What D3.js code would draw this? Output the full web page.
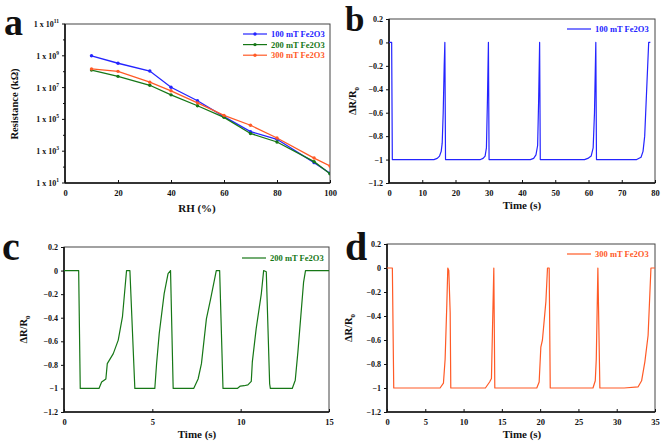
<!DOCTYPE html>
<html><head><meta charset="utf-8">
<script src="https://cdn.jsdelivr.net/npm/d3@7/dist/d3.min.js"></script>
<style>body{margin:0;background:#fff}svg{display:block}text{font-family:"Liberation Serif","Times New Roman",serif;font-weight:bold}</style>
</head><body><svg id="c" width="661" height="443"></svg>
<script>
// ---- Panel a data ----
const rh = [10, 20, 32, 40, 50, 60, 70, 80, 94, 100];
const res100 = [1e9, 3.4e8, 1.1e8, 1.05e7, 1.5e6, 1.5e5, 1.7e4, 5.6e3, 190, 41];
const res200 = [1.26e8, 5.1e7, 1.4e7, 3.5e6, 7.2e5, 1.35e5, 1.3e4, 3.8e3, 220, 38];
const res300 = [1.5e8, 1.05e8, 2.2e7, 6.3e6, 1.1e6, 1.8e5, 4.3e4, 6.8e3, 370, 117];
const seriesA = ["100 mT Fe2O3", "200 mT Fe2O3", "300 mT Fe2O3"];
const rhTicks = [0, 20, 40, 60, 80, 100];
const resTicksExp = [1, 3, 5, 7, 9, 11];
const resMinorExp = [2, 4, 6, 8, 10];

// ---- Panel b data (100 mT) : [time s, dR/R0]
const t100 = [0,0.8,1.0,13.5,14.5,15.2,15.7,16.0,16.3,16.6,16.8,17.0,27.5,28.3,28.9,29.3,29.6,29.9,30.1,42.5,43.5,44.2,44.7,45.0,45.3,45.5,58.8,59.8,60.8,61.4,61.8,62.2,62.4,74.5,75.8,76.4,76.9,77.5,78.1,78.6];
const r100 = [0,0,-1,-1,-0.99,-0.97,-0.93,-0.86,-0.6,-0.2,0,-1,-1,-0.99,-0.97,-0.9,-0.5,0,-1,-1,-0.99,-0.96,-0.88,-0.5,0,-1,-1,-0.99,-0.97,-0.9,-0.6,0,-1,-1,-0.98,-0.93,-0.8,-0.4,0,0];
const timeTicksB = [0,10,20,30,40,50,60,70,80];

// ---- Panel c data (200 mT)
const t200 = [0,0.83,0.92,1.98,2.13,2.37,2.45,2.79,3.07,3.31,3.54,3.73,4.01,5.14,5.24,5.39,5.67,5.89,6.03,6.18,7.34,7.59,7.78,8.06,8.3,8.62,8.81,9.0,9.81,9.98,10.2,10.41,10.6,10.66,10.88,11.17,11.3,11.45,11.64,11.68,12.92,13.09,13.24,13.43,13.56,13.67,15];
const r200 = [0,0,-1,-1,-0.946,-0.92,-0.79,-0.705,-0.59,-0.39,0,0,-1,-1,-0.79,-0.535,-0.195,-0.025,0,-1,-1,-0.92,-0.79,-0.41,-0.24,0,0,-1,-1,-0.98,-0.977,-0.97,-0.94,-0.775,-0.49,-0.195,0,-0.01,-0.96,-1,-1,-0.93,-0.69,-0.34,-0.1,0,0];
const timeTicksC = [0,5,10,15];

// ---- Panel d data (300 mT)
const t300 = [0,0.7,0.88,6.93,7.37,7.59,7.81,7.94,8.07,8.25,8.33,12.85,13.4,13.64,13.77,13.95,14.08,19.56,19.87,20.09,20.3,20.75,20.96,21.18,21.32,26.9,27.2,27.33,27.54,27.8,30.96,32.8,33.25,33.68,34.1,34.47,35];
const r300 = [0,0,-1,-1,-0.96,-0.76,-0.31,0,-0.02,-0.37,-1,-1,-0.95,-0.92,-0.53,0,-1,-1,-0.95,-0.66,-0.6,-0.28,0,0,-1,-1,-0.94,-0.76,0,-1,-1,-0.99,-0.94,-0.78,-0.56,0,0];
const timeTicksD = [0,5,10,15,20,25,30,35];
const drTicks = [0.2,0,-0.2,-0.4,-0.6,-0.8,-1,-1.2];

const colors = ["#2424ff", "#167716", "#ff5a26"];
const svg = d3.select("#c");

function frame(g, x, y) {
  const [x0,x1] = x.range(), [y1,y0] = y.range();
  g.append("rect").attr("x",x0).attr("y",y0).attr("width",x1-x0).attr("height",y1-y0)
    .attr("fill","none").attr("stroke","#444").attr("stroke-width",1);
  g.append("line").attr("x1",x0).attr("x2",x0).attr("y1",y0).attr("y2",y1).attr("stroke","#111").attr("stroke-width",1.6);
  g.append("line").attr("x1",x0).attr("x2",x1).attr("y1",y1).attr("y2",y1).attr("stroke","#111").attr("stroke-width",1.6);
}
function xAxis(g, x, y, ticks, fmt) {
  const yb = y.range()[0];
  const ax = g.append("g").attr("transform",`translate(0,${yb})`)
    .call(d3.axisBottom(x).tickValues(ticks).tickSize(-3).tickPadding(7).tickFormat(fmt||d3.format("d")));
  ax.select(".domain").remove();
  ax.selectAll("line").attr("stroke","#111");
  ax.selectAll("text").attr("font-size",8.5).attr("fill","#111").attr("font-family","Liberation Serif").attr("font-weight","bold");
}
function yAxisLin(g, x, y, ticks) {
  const ax = g.append("g").attr("transform",`translate(${x.range()[0]},0)`)
    .call(d3.axisLeft(y).tickValues(ticks).tickSize(3).tickPadding(3).tickFormat(d => d3.format("")(+d.toFixed(1))));
  ax.select(".domain").remove();
  ax.selectAll("line").attr("stroke","#111");
  ax.selectAll("text").attr("font-size",8).attr("fill","#111").attr("font-family","Liberation Serif").attr("font-weight","bold");
}
function label(txt, x, y, size, rot) {
  const t = svg.append("text").attr("x",x).attr("y",y).attr("font-size",size).attr("fill","#111").attr("text-anchor","middle");
  if (rot) t.attr("transform",`rotate(-90,${x},${y})`);
  return t.text(txt);
}
function legend(g, x, y, txt, col) {
  g.append("line").attr("x1",x).attr("x2",x+24).attr("y1",y).attr("y2",y).attr("stroke",col).attr("stroke-width",1.2);
  g.append("text").attr("x",x+28).attr("y",y+3).attr("font-size",8.5).attr("fill",col).text(txt);
}
function drLabel(x, y) {
  const t = svg.append("text").attr("transform",`translate(${x},${y}) rotate(-90)`).attr("text-anchor","middle").attr("font-size",10.5).attr("fill","#111");
  t.append("tspan").text("ΔR/R");
  t.append("tspan").attr("font-size",7).attr("dy",2.5).text("0");
}

// ---------- Panel a ----------
{
  const g = svg.append("g");
  const x = d3.scaleLinear().domain([0,100]).range([65,330]);
  const y = d3.scaleLog().domain([1e1,1e11]).range([183,24]);
  frame(g,x,y);
  xAxis(g,x,y,rhTicks);
  const ax = g.append("g").attr("transform","translate(65,0)");
  resTicksExp.forEach(e => {
    ax.append("line").attr("x1",-3).attr("x2",0).attr("y1",y(Math.pow(10,e))).attr("y2",y(Math.pow(10,e))).attr("stroke","#111");
    const t = ax.append("text").attr("x",-6).attr("y",y(Math.pow(10,e))+3).attr("text-anchor","end").attr("font-size",8).attr("fill","#111");
    t.append("tspan").text("1 x 10");
    t.append("tspan").attr("font-size",5.5).attr("dy",-4).text(e);
  });
  resMinorExp.forEach(e => {
    ax.append("line").attr("x1",-2).attr("x2",0).attr("y1",y(Math.pow(10,e))).attr("y2",y(Math.pow(10,e))).attr("stroke","#111");
  });
  const sets = [res100,res200,res300];
  const line = d3.line().x(d=>x(d[0])).y(d=>y(d[1]));
  svg.append("clipPath").attr("id","clipA").append("rect").attr("x",65).attr("y",24).attr("width",265).attr("height",159);
  sets.forEach((s,i) => {
    const pts = rh.map((r,j)=>[r,s[j]]);
    const gg = g.append("g").attr("clip-path","url(#clipA)");
    gg.append("path").attr("d",line(pts)).attr("fill","none").attr("stroke",colors[i]).attr("stroke-width",1.3);
    gg.selectAll("circle").data(pts).join("circle").attr("cx",d=>x(d[0])).attr("cy",d=>y(d[1])).attr("r",1.7).attr("fill",colors[i]);
  });
  seriesA.forEach((s,i) => {
    legend(g,243,34+i*10.6,s,colors[i]);
    g.append("circle").attr("cx",255).attr("cy",34+i*10.6).attr("r",1.7).attr("fill",colors[i]);
  });
  label("RH (%)",197,212,11);
  label("Resistance (kΩ)",18,104,10.5,true);
  svg.append("text").attr("x",4).attr("y",35).attr("font-size",38).attr("fill","#111").text("a");
}

function transient(x0,x1,top,bot,tmax,ticks,ts,rs,col,name,legX,legY,letter,lx,ly,xlab,ylab) {
  const g = svg.append("g");
  const x = d3.scaleLinear().domain([0,tmax]).range([x0,x1]);
  const y = d3.scaleLinear().domain([-1.2,0.2]).range([bot,top]);
  frame(g,x,y);
  xAxis(g,x,y,ticks);
  yAxisLin(g,x,y,drTicks);
  const line = d3.line().x(d=>x(d[0])).y(d=>y(d[1]));
  g.append("path").attr("d",line(ts.map((t,i)=>[t,rs[i]]))).attr("fill","none").attr("stroke",col).attr("stroke-width",1.2).attr("stroke-linejoin","round");
  legend(g,legX,legY,name,col);
  label("Time (s)",xlab,bot+26,11);
  drLabel(ylab,(top+bot)/2);
  svg.append("text").attr("x",lx).attr("y",ly).attr("font-size",lx>300&&ly<100?35:40).attr("fill","#111").text(letter);
}
transient(389,655,19,183,80,timeTicksB,t100,r100,colors[0],"100 mT Fe2O3",567,29,"b",345,31,522,356);
transient(64,329,247,412,15,timeTicksC,t200,r200,colors[1],"200 mT Fe2O3",242,258,"c",2,260,197,27);
transient(387,655,244,412,35,timeTicksD,t300,r300,colors[2],"300 mT Fe2O3",567,254,"d",345,260,522,352);
</script></body></html>
